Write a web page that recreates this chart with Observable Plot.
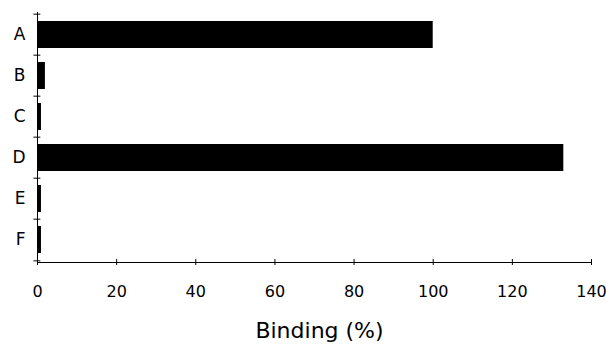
<!DOCTYPE html>
<html>
<head>
<meta charset="utf-8">
<script src="https://cdn.jsdelivr.net/npm/d3@7"></script>
<script src="https://cdn.jsdelivr.net/npm/@observablehq/plot@0.6"></script>
<style>
  html, body { margin: 0; padding: 0; background: #fff; }
</style>
</head>
<body>
<div id="chart"></div>
<script>
const categories = ["A", "B", "C", "D", "E", "F"];
const binding = [100, 2, 1, 133, 1, 1];
const xTicks = [0, 20, 40, 60, 80, 100, 120, 140];
const xLabel = "Binding (%)";

const data = categories.map((c, i) => ({cat: c, value: binding[i]}));

const height = 344, marginTop = 12, marginBottom = 82;
const step = (height - marginTop - marginBottom) / categories.length;

const chart = Plot.plot({
  width: 606,
  height,
  marginLeft: 37,
  marginRight: 15,
  marginTop,
  marginBottom,
  style: {fontFamily: "DejaVu Sans", color: "black", background: "white"},
  x: {domain: [0, 140], ticks: xTicks},
  y: {domain: categories, paddingInner: 0.33, paddingOuter: 0.165},
  marks: [
    Plot.barX(data, {x: "value", y: "cat", fill: "black"}),
    Plot.ruleX([0], {stroke: "black"}),
    Plot.frame({anchor: "bottom", stroke: "black"}),
    Plot.ruleY(categories, {y: d => d, x1: -0.9, x2: 0.85, dy: -step / 2, stroke: "black"}),
    Plot.ruleY(categories.slice(-1), {y: d => d, x1: -0.9, x2: 0.85, dy: step / 2, stroke: "black"}),
    Plot.axisY({tickSize: 0, tickPadding: 12, fontSize: 17, label: null}),
    Plot.axisX({ticks: xTicks, tickSize: 6, dy: -3, tickFormat: () => "", label: null}),
    Plot.axisX({ticks: xTicks, tickSize: 0, tickPadding: 23, fontSize: 16, label: null}),
    Plot.text([xLabel], {text: d => d, frameAnchor: "bottom", dy: 75, dx: 5, lineAnchor: "bottom", fontSize: 22})
  ]
});
document.getElementById("chart").appendChild(chart);
</script>
</body>
</html>
